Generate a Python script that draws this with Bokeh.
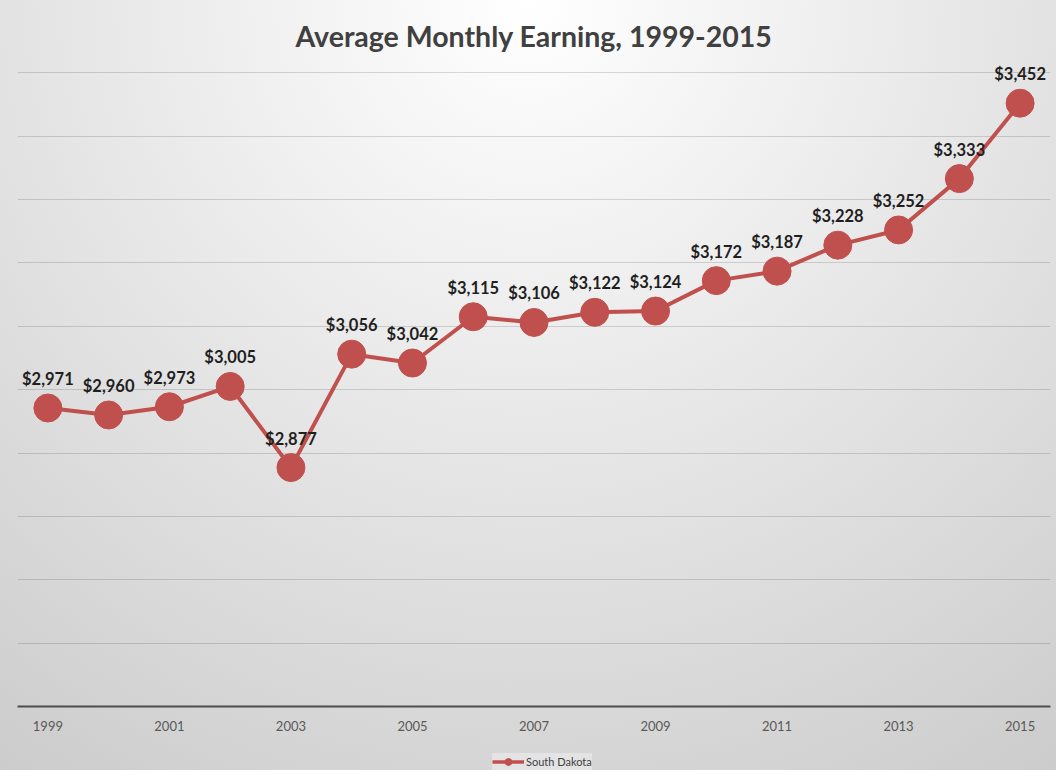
from bokeh.plotting import figure
from bokeh.layouts import column
from bokeh.models import Range1d, FixedTicker, SingleIntervalTicker, Legend, LegendItem, ColumnDataSource
from bokeh.core.properties import value
from bokeh.embed import file_html
from bokeh.resources import INLINE

years = [1999, 2000, 2001, 2002, 2003, 2004, 2005, 2006, 2007, 2008,
         2009, 2010, 2011, 2012, 2013, 2014, 2015]
earnings = [2971, 2960, 2973, 3005, 2877, 3056, 3042, 3115, 3106, 3122,
            3124, 3172, 3187, 3228, 3252, 3333, 3452]
labels = ["$" + format(v, ",") for v in earnings]
tick_years = [1999, 2001, 2003, 2005, 2007, 2009, 2011, 2013, 2015]
tick_labels = ["1999", "2001", "2003", "2005", "2007", "2009", "2011", "2013", "2015"]
series_name = "South Dakota"
title_text = "Average Monthly Earning, 1999-2015"

FONT = "Lato"
RED = "#C0504D"

src = ColumnDataSource(dict(x=years, y=earnings, label=labels))

p = figure(
    width=1056, height=743,
    output_backend="svg", toolbar_location=None,
    x_range=Range1d(1998.5, 2015.5), y_range=Range1d(2500, 3532),
    min_border_left=17, min_border_right=6, min_border_top=52, min_border_bottom=37,
    background_fill_color=None, border_fill_color=None,
)
p.outline_line_color = None

p.title.text = title_text
p.title.align = "center"
p.title.text_font = FONT
p.title.text_font_size = "28.5px"
p.title.text_font_style = "bold"
p.title.text_color = "#404040"
p.title.standoff = 0

# axes
p.yaxis.visible = False
p.ygrid.ticker = SingleIntervalTicker(interval=100)
p.ygrid.grid_line_color = "black"
p.ygrid.grid_line_alpha = 0.14
p.ygrid.grid_line_width = 1
p.xgrid.grid_line_color = None

p.xaxis.ticker = FixedTicker(ticks=tick_years)
p.xaxis.major_label_overrides = {y: l for y, l in zip(tick_years, tick_labels)}
p.xaxis.major_tick_line_color = None
p.xaxis.minor_tick_line_color = None
p.xaxis.major_tick_out = 0
p.xaxis.major_tick_in = 0
p.xaxis.major_label_standoff = 14
p.xaxis.axis_line_color = "#4d4d4d"
p.xaxis.axis_line_width = 2
p.xaxis.major_label_text_font = FONT
p.xaxis.major_label_text_font_size = "13px"
p.xaxis.major_label_text_color = "#595959"

line_r = p.line("x", "y", source=src, line_color=RED, line_width=4)
dot_r = p.scatter("x", "y", source=src, size=28, fill_color=RED, line_color=RED)

p.text("x", "y", text="label", source=src, text_align="center", text_baseline="middle",
       y_offset=-29, text_font=value(FONT), text_font_style="bold",
       text_font_size="16.5px", text_color="#1f1f1f")

# legend strip below the chart (its swatch renderers sit outside the visible range)
leg = figure(
    width=1056, height=27,
    output_backend="svg", toolbar_location=None,
    x_range=Range1d(0, 1), y_range=Range1d(0, 1),
    min_border=0, background_fill_color=None, border_fill_color=None,
)
leg.outline_line_color = None
leg.axis.visible = False
leg.grid.visible = False
leg_line = leg.line(x=[-5, -4], y=[-5, -5], line_color=RED, line_width=3.5)
leg_dot = leg.scatter(x=[-5], y=[-5], size=9, fill_color=RED, line_color=RED)
legend = Legend(
    items=[LegendItem(label=series_name, renderers=[leg_line, leg_dot])],
    location=(475, 0), orientation="horizontal",
    glyph_width=32, glyph_height=17, label_standoff=2, label_height=17,
    label_text_font=FONT, label_text_font_size="11px", label_text_color="#404040",
    padding=5, margin=0, spacing=0,
    background_fill_color="white", background_fill_alpha=0.35,
    border_line_color=None,
)
leg.add_layout(legend, "center")

layout = column(
    p, leg, spacing=0, width=1056, height=770,
    styles={"background": "radial-gradient(circle farthest-corner at 50% 0%, #ffffff 0%, #f0f0f0 30%, #cccccc 100%)"},
)

open("out.html", "w").write(file_html(layout, INLINE))
